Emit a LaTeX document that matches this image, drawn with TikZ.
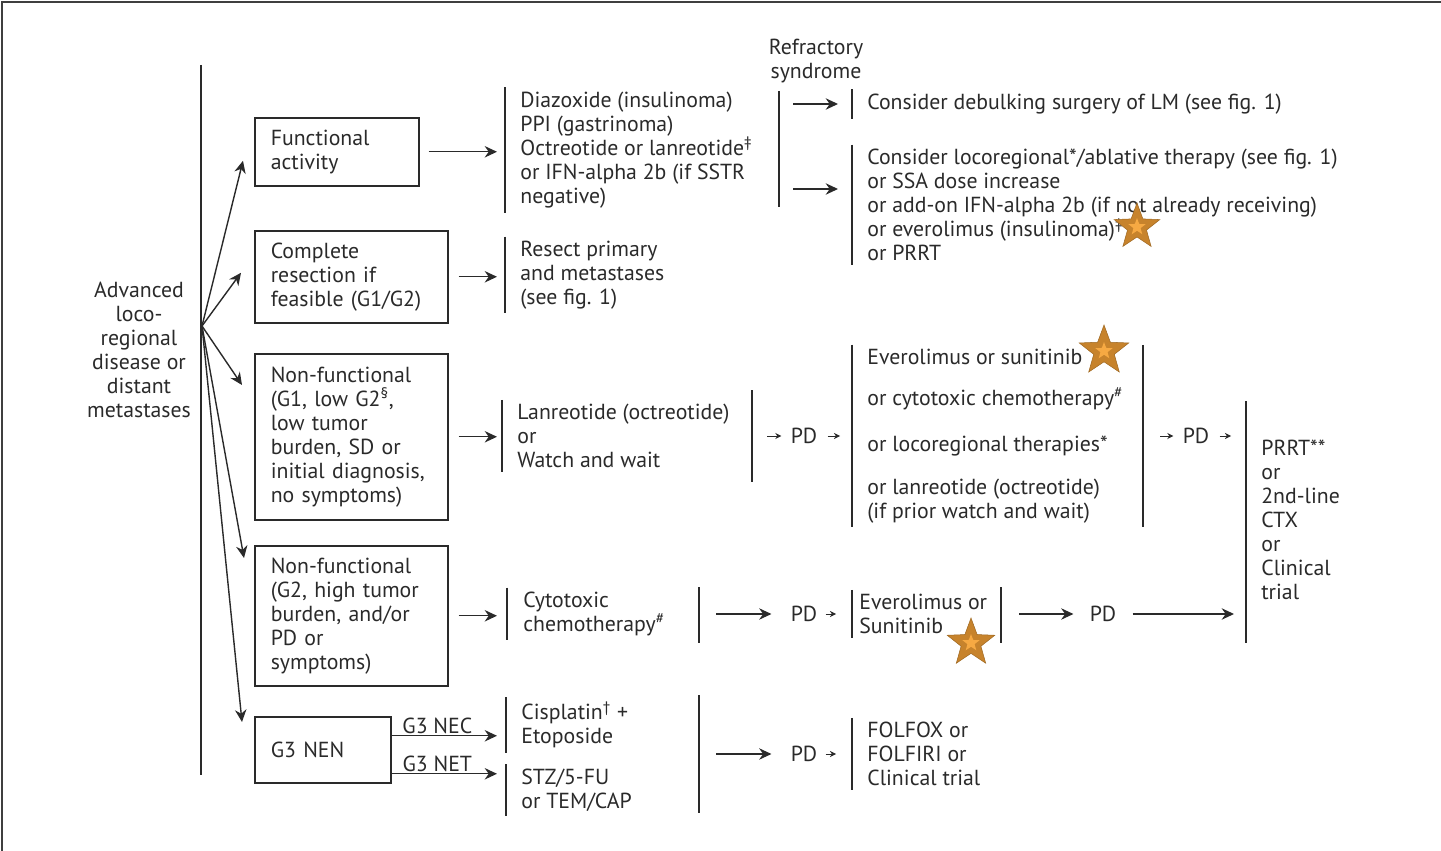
\documentclass[tikz,border=0pt]{standalone}
\usepackage{fontspec}
\setmainfont{PT Sans}
\usetikzlibrary{shapes.geometric, arrows.meta, positioning, calc}
\definecolor{inkgray}{HTML}{2A2A2A}
\definecolor{starbronze}{HTML}{C7832C}
\definecolor{starlight}{HTML}{F6A943}

\begin{document}
\begin{tikzpicture}[
		x=0.02cm, y=-0.02cm,
		font=\fontsize{12.4}{13.66}\selectfont,
		every node/.style={text=inkgray},
		arr/.style={-{Stealth[length=7pt,width=6.5pt]}, line width=0.8pt, draw=inkgray},
		sarr/.style={-{Stealth[length=3.5pt,width=3.5pt]}, line width=0.55pt, draw=inkgray},
		bar/.style={line width=0.8pt, draw=inkgray}
	]
	\tikzstyle{BoxNode} = [ %the framed boxes of the first column
		draw=inkgray,
		line width=0.9pt,
		anchor=north west,
		align=left,
		inner xsep=0.32cm
	]
	\tikzstyle{TxtNode} = [
		anchor=west,
		align=left,
		inner xsep=0.3cm,
		inner ysep=0.08cm
	]
	\tikzstyle{PdNode} = [
		inner xsep=0.12cm
	]
	\tikzstyle{StarNode} = [
		star, star points=5, star point ratio=2.4,
		inner sep=0pt,
		fill=starbronze,
		draw=starbronze!80!black,
		line width=0.3pt,
		minimum size=1cm
	]
	\useasboundingbox (0,0) rectangle (1441,851);
	\draw[line width=1.2pt, draw=inkgray!90] (2,851) -- (2,2) -- (1441,2);

	\node (adv) [align=center] at (139,350) {Advanced\\loco-\\regional\\disease or\\distant\\metastases};
	\draw[bar] (201,65) -- (201,775);
	\coordinate (fan) at (202,326);

	\node (fa) [BoxNode, text width=2.64cm, minimum height=1.36cm] at (254,117) {Functional\\activity};
	\node (cr) [BoxNode, text width=3.22cm, minimum height=1.84cm] at (254,230) {Complete\\resection if\\feasible (G1/G2)};
	\node (nf1) [BoxNode, text width=3.22cm, minimum height=3.32cm] at (254,353) {Non-functional\\(G1, low G2\textsuperscript{§},\\low tumor\\burden, SD or\\initial diagnosis,\\no symptoms)};
	\node (nf2) [BoxNode, text width=3.22cm, minimum height=2.8cm] at (254,545) {Non-functional\\(G2, high tumor\\burden, and/or\\PD or\\symptoms)};
	\node (g3) [BoxNode, text width=2.08cm, minimum height=1.32cm] at (254,716) {G3 NEN};

	\draw[arr] (fan) -- ($(fa.west)+(-11,9)$);
	\draw[arr] (fan) -- ($(cr.west)+(-13,-4)$);
	\draw[arr] (fan) -- ($(nf1.north west)+(-12,32)$);
	\draw[arr] (fan) -- ($(nf2.north west)+(-10,13)$);
	\draw[arr] (fan) -- ($(g3.north west)+(-12,6)$);

	% second column
	\node (dz) [TxtNode] at (505,150) {Diazoxide (insulinoma)\\PPI (gastrinoma)\\Octreotide or lanreotide\textsuperscript{‡}\\or IFN-alpha 2b (if SSTR\\negative)};
	\node (rs) [TxtNode] at (505,275) {Resect primary\\and metastases\\(see fig. 1)};
	\node (lw) [TxtNode] at (502,436) {Lanreotide (octreotide)\\or\\Watch and wait};
	\node (cy) [TxtNode, inner xsep=0.32cm] at (507,614) {Cytotoxic\\chemotherapy\textsuperscript{\#}};
	\node (ce) [TxtNode] at (506,725) {Cisplatin\textsuperscript{†} +\\Etoposide};
	\node (stz) [TxtNode] at (506,790) {STZ/5-FU\\or TEM/CAP};
	\foreach \n in {dz, rs, lw, cy, ce, stz}
		\draw[bar] (\n.north west) -- (\n.south west);

	\draw[arr, shorten <=0.18cm, shorten >=0.16cm] (fa.east) -- (fa.east -| dz.west);
	\draw[arr, shorten <=0.2cm, shorten >=0.16cm] (cr.east) -- (cr.east -| rs.west);
	\draw[arr, shorten <=0.2cm, shorten >=0.1cm] (nf1.east) -- (nf1.east -| lw.west);
	\draw[arr, shorten <=0.2cm, shorten >=0.2cm] (nf2.east) -- (nf2.east -| cy.west);
	\coordinate (necst) at ($(g3.east)+(0,-14)$);
	\coordinate (netst) at ($(g3.east)+(0,24)$);
	\draw[arr, shorten >=0.18cm] (necst) -- node[above, inner sep=1pt, pos=0.4] (nec) {G3 NEC} (necst -| ce.west);
	\draw[arr, shorten >=0.18cm] (netst) -- node[above, inner sep=1pt, pos=0.4] (net) {G3 NET} (netst -| stz.west);

	% refractory syndrome
	\node (ref) [align=center] at (816,61) {Refractory\\syndrome};
	\draw[bar] (779,91) -- (779,207);
	\coordinate (rb) at (779,150);
	\node (db) [TxtNode] at (852,104) {Consider debulking surgery of LM (see fig. 1)};
	\node (lr) [TxtNode] at (852,205) {Consider locoregional*/ablative therapy (see fig. 1)\\or SSA dose increase\\or add-on IFN-alpha 2b (if not already receiving)\\or everolimus (insulinoma)\textsuperscript{‡}\\or PRRT};
	\foreach \n in {db, lr}
		\draw[bar] (\n.north west) -- (\n.south west);
	\draw[arr, shorten <=0.28cm, shorten >=0.28cm] (db.west -| rb) -- (db.west);
	\draw[arr, shorten <=0.28cm, shorten >=0.28cm] ([yshift=0.32cm]lr.west -| rb) -- ([yshift=0.32cm]lr.west);

	% non-functional, low grade
	\draw[bar] (752,390) -- (752,482);
	\coordinate (lwr) at (752,436);
	\node (pd1) [PdNode] at (804,436) {PD};
	\node (ev) [TxtNode] at (852,436) {Everolimus or sunitinib\\[0.34cm]or cytotoxic chemotherapy\textsuperscript{\#}\\[0.44cm]or locoregional therapies*\\[0.38cm]or lanreotide (octreotide)\\(if prior watch and wait)};
	\draw[bar] (ev.north west) -- (ev.south west);
	\draw[sarr, shorten <=0.3cm, shorten >=0.06cm] (lwr) -- (pd1.west);
	\draw[sarr, shorten <=0.08cm, shorten >=0.24cm] (pd1.east) -- (pd1.east -| ev.west);
	\draw[bar] (1143,345) -- (1143,527);
	\coordinate (evr) at (1143,436);
	\node (pd2) [PdNode] at (1196,436) {PD};
	\node (prrt) [TxtNode] at (1246,520) {PRRT**\\or\\2nd-line\\CTX\\or\\Clinical\\trial};
	\draw[bar] (1246,401) -- (1246,643);
	\draw[sarr, shorten <=0.34cm, shorten >=0.06cm] (evr) -- (pd2.west);
	\draw[sarr, shorten <=0.08cm, shorten >=0.3cm] (pd2.east) -- (pd2.east -| prrt.west);

	% non-functional, high grade
	\draw[bar] (699,587) -- (699,643);
	\coordinate (cyr) at (699,614);
	\node (pd3) [PdNode] at (804,614) {PD};
	\node (es) [TxtNode, inner xsep=0.14cm] at (852,614) {Everolimus or\\Sunitinib};
	\draw[bar] (es.north west) -- (es.south west);
	\draw[arr, shorten <=0.34cm, shorten >=0.26cm] (cyr) -- (pd3.west);
	\draw[sarr, shorten <=0.04cm, shorten >=0.32cm] (pd3.east) -- (pd3.east -| es.west);
	\draw[bar] (1001,587) -- (1001,643);
	\coordinate (esr) at (1001,614);
	\node (pd4) [PdNode] at (1103,614) {PD};
	\draw[arr, shorten <=0.36cm, shorten >=0.2cm] (esr) -- (pd4.west);
	\draw[arr, shorten <=0.2cm, shorten >=0.24cm] (pd4.east) -- (pd4.east -| prrt.west);

	% G3
	\draw[bar] (699,695) -- (699,813);
	\coordinate (g3r) at (699,754);
	\node (pd5) [PdNode] at (804,754) {PD};
	\node (ff) [TxtNode] at (852,754) {FOLFOX or\\FOLFIRI or\\Clinical trial};
	\draw[bar] (ff.north west) -- (ff.south west);
	\draw[arr, shorten <=0.34cm, shorten >=0.26cm] (g3r) -- (pd5.west);
	\draw[sarr, shorten <=0.04cm, shorten >=0.32cm] (pd5.east) -- (pd5.east -| ff.west);

	% stars
	\node (st1) [StarNode, minimum size=0.96cm] at (1137,227) {};
	\node (st2) [StarNode, minimum size=1.04cm] at (1104,351) {};
	\node (st3) [StarNode, minimum size=1cm] at (971,643) {};
	\foreach \s in {st1, st2, st3}
		\node [StarNode, fill=starlight, draw=none, minimum size=0.36cm] at (\s) {};
\end{tikzpicture}
\end{document}
